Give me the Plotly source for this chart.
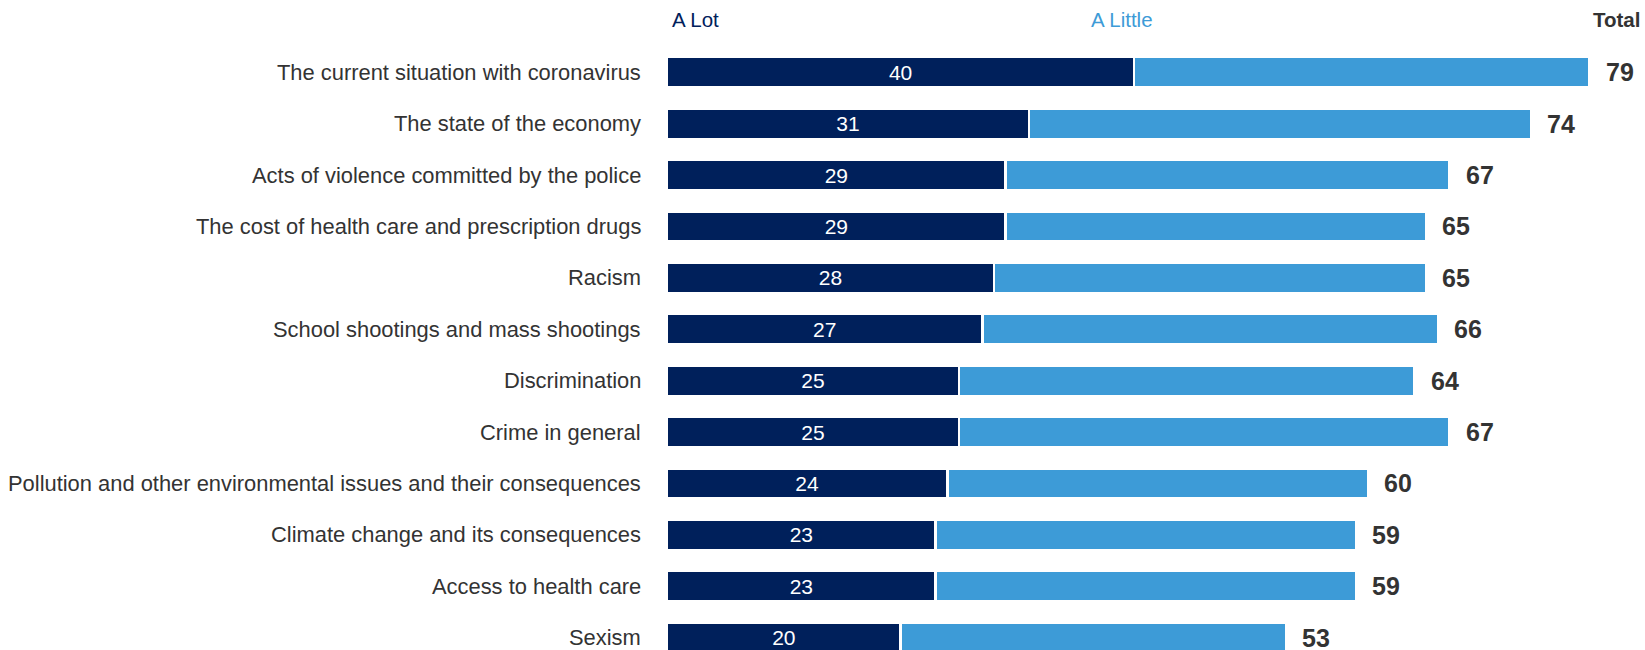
import plotly.graph_objects as go

# Survey items, top to bottom
categories = [
    "The current situation with coronavirus",
    "The state of the economy",
    "Acts of violence committed by the police",
    "The cost of health care and prescription drugs",
    "Racism",
    "School shootings and mass shootings",
    "Discrimination",
    "Crime in general",
    "Pollution and other environmental issues and their consequences",
    "Climate change and its consequences",
    "Access to health care",
    "Sexism",
]
a_lot = [40, 31, 29, 29, 28, 27, 25, 25, 24, 23, 23, 20]
a_little = [39, 43, 38, 36, 37, 39, 39, 42, 36, 36, 36, 33]
total = [79, 74, 67, 65, 65, 66, 64, 67, 60, 59, 59, 53]

NAVY = "rgb(0,32,91)"
SKY = "rgb(61,155,215)"
GREY = "#333333"
FONT = "Liberation Sans, Arial, sans-serif"

rows = list(range(len(categories)))

fig = go.Figure()
fig.add_trace(go.Bar(
    y=rows, x=a_lot, orientation="h", name="A Lot",
    marker=dict(color=NAVY, line=dict(color="white", width=2.5)),
    text=a_lot, texttemplate="%{text}", textposition="inside",
    insidetextanchor="middle",
    textfont=dict(family=FONT, size=21, color="white"),
    hoverinfo="skip",
))
fig.add_trace(go.Bar(
    y=rows, x=a_little, orientation="h", name="A Little",
    marker=dict(color=SKY, line=dict(color="white", width=2.5)),
    hoverinfo="skip",
))

# Category names, right-aligned just left of the bars
for r, name in zip(rows, categories):
    fig.add_annotation(
        x=0, y=r, xref="paper", yref="y", text=name, showarrow=False,
        xanchor="right", yanchor="middle", xshift=-24,
        font=dict(family=FONT, size=21.9, color=GREY),
    )

# Total values to the right of each stacked bar
for r, t in zip(rows, total):
    fig.add_annotation(
        x=t, y=r, xref="x", yref="y", text=f"<b>{t}</b>", showarrow=False,
        xanchor="left", yanchor="middle", xshift=14,
        font=dict(family=FONT, size=25, color=GREY),
    )

# Column headers
HEAD_Y = -1.03
fig.add_annotation(x=0, y=HEAD_Y, xref="x", yref="y", text="A Lot", showarrow=False,
                   xanchor="left", yanchor="middle", xshift=3,
                   font=dict(family=FONT, size=20.5, color=NAVY))
fig.add_annotation(x=36.3, y=HEAD_Y, xref="x", yref="y", text="A Little", showarrow=False,
                   xanchor="left", yanchor="middle", xshift=-2,
                   font=dict(family=FONT, size=20.5, color=SKY))
fig.add_annotation(x=1, y=HEAD_Y, xref="paper", yref="y", text="<b>Total</b>", showarrow=False,
                   xanchor="right", yanchor="middle", xshift=-3,
                   font=dict(family=FONT, size=20.5, color=GREY))

fig.update_layout(
    width=1645, height=650,
    barmode="stack", bargap=0.41,
    showlegend=False,
    plot_bgcolor="white", paper_bgcolor="white",
    margin=dict(l=667, r=0, t=0, b=0, autoexpand=False),
    xaxis=dict(range=[0, 978 / 11.68], visible=False, fixedrange=True),
    yaxis=dict(
        range=[11.241, -1.405], visible=False,
        showgrid=False, zeroline=False, fixedrange=True,
    ),
    uniformtext=dict(mode="show", minsize=10),
)

fig.write_html("out.html")
